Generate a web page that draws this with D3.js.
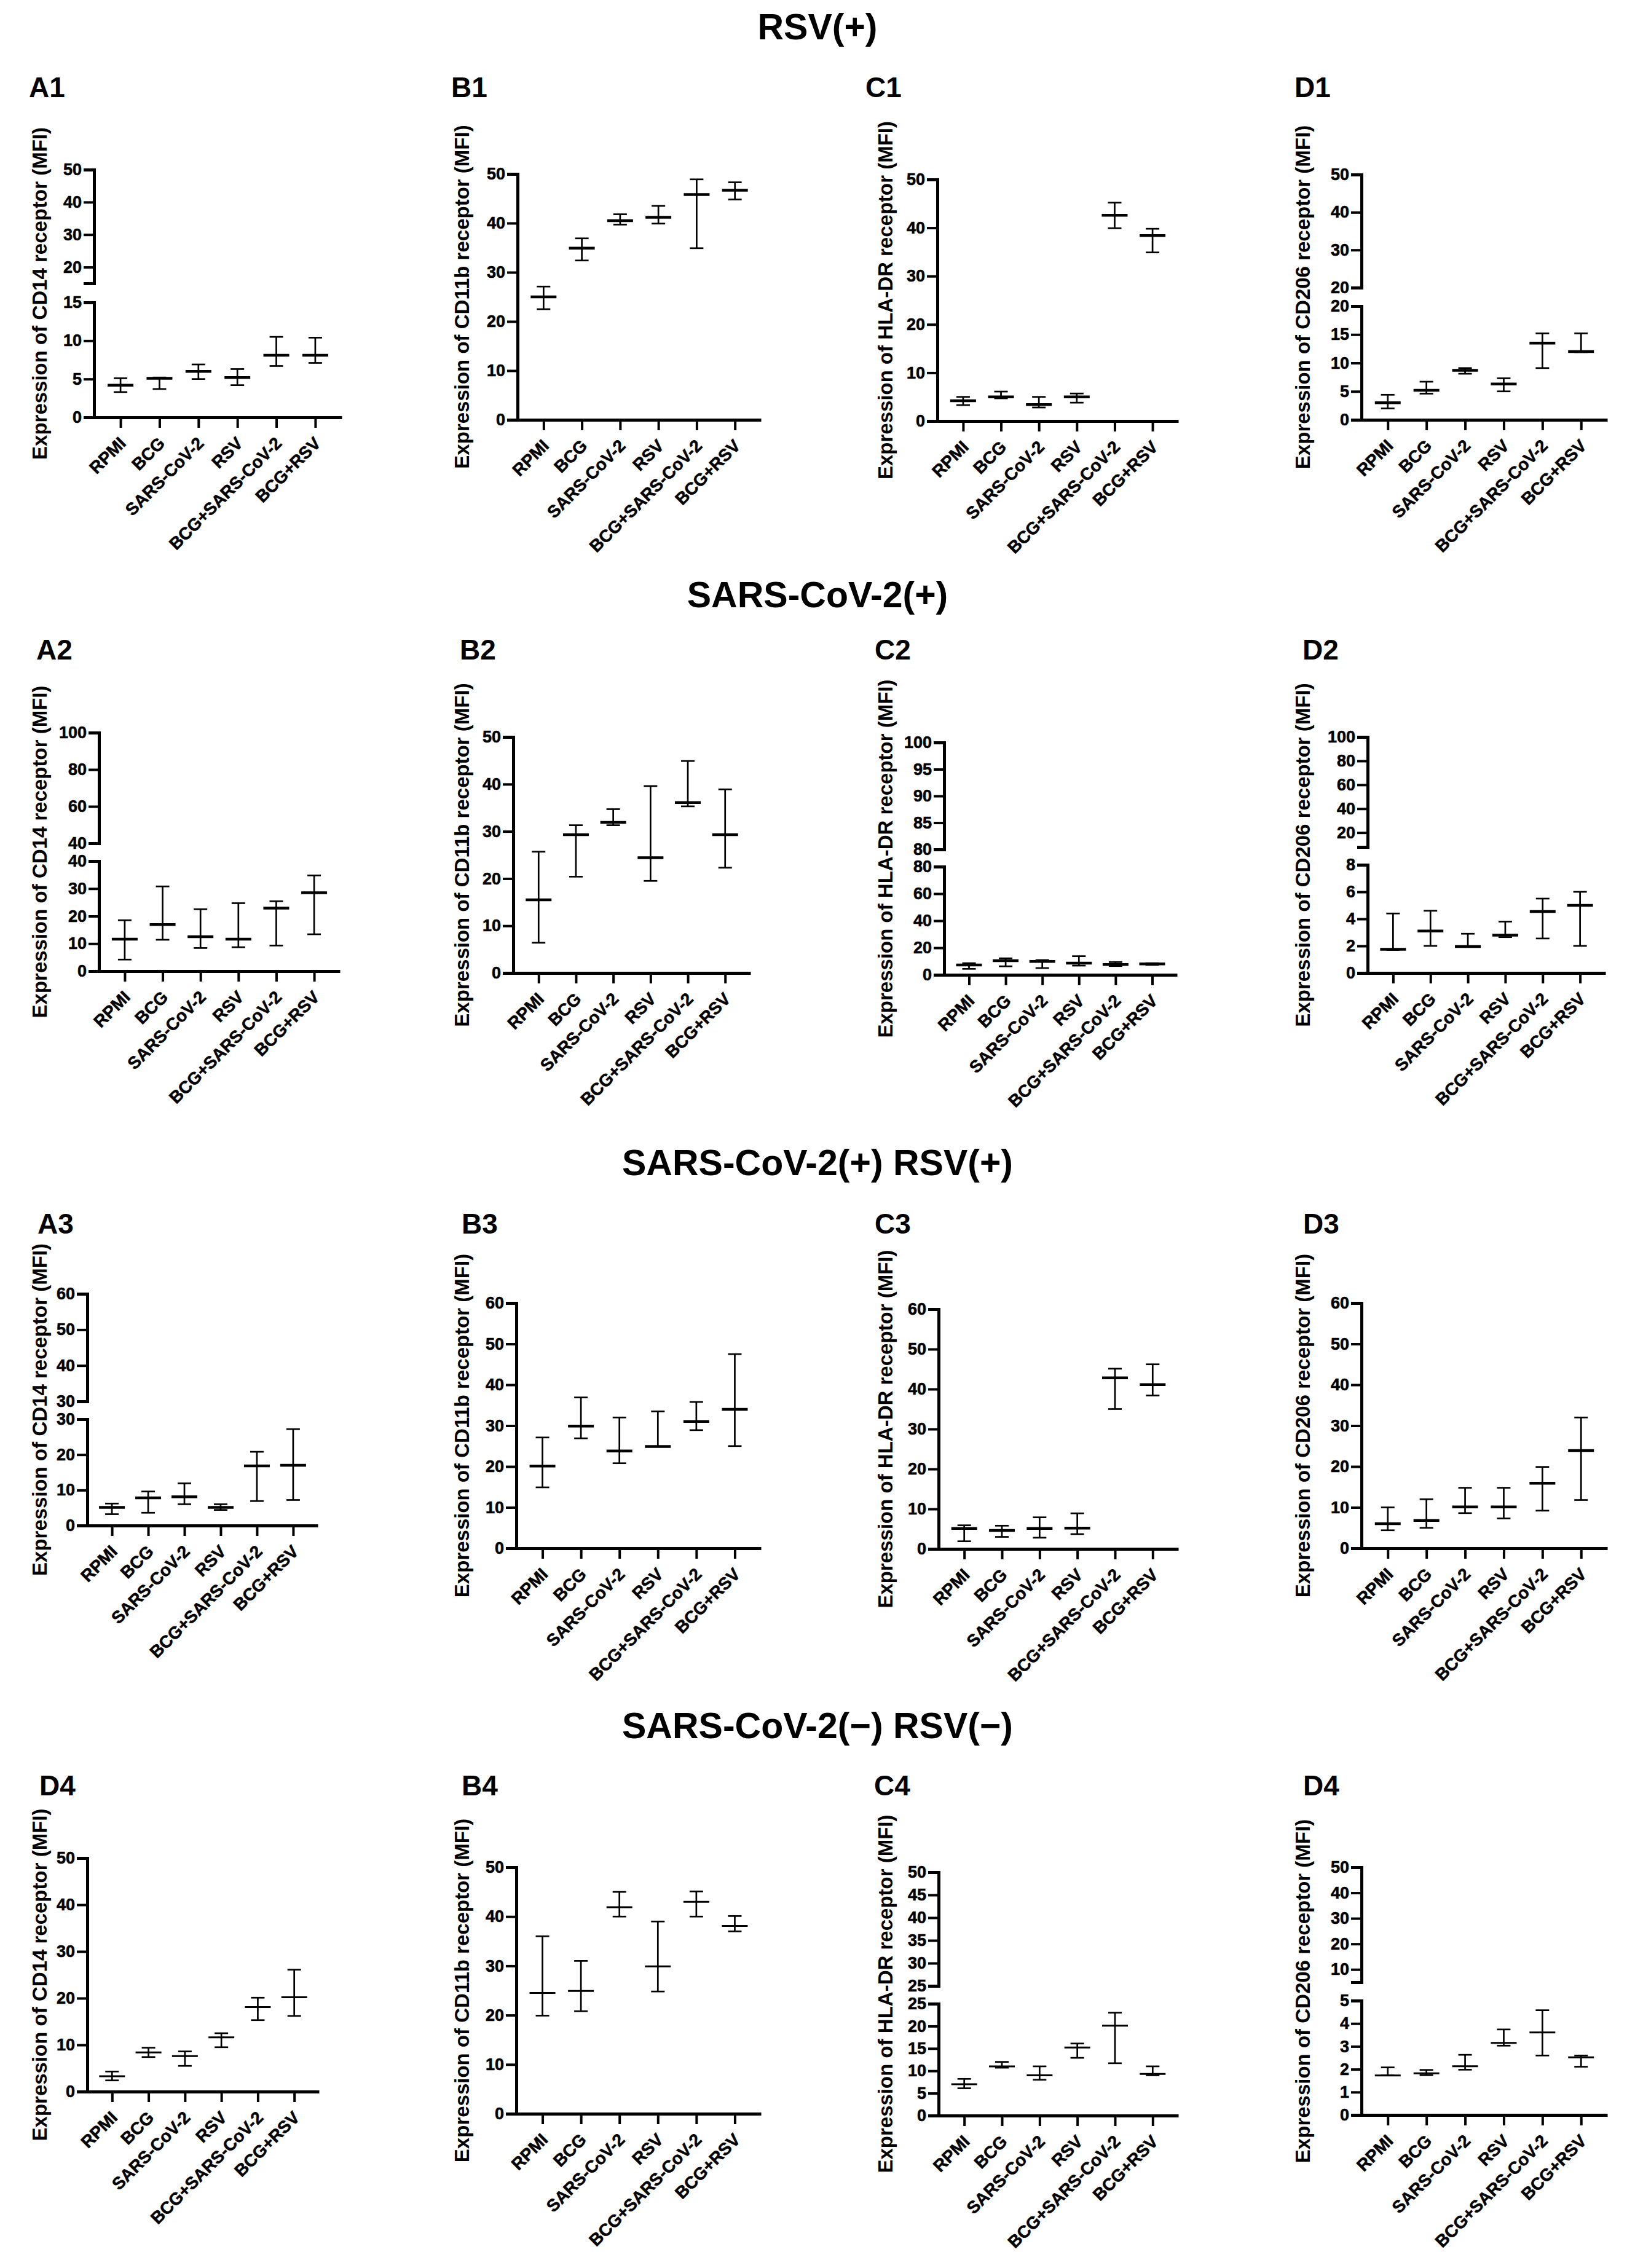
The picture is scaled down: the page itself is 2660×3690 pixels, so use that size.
<!DOCTYPE html>
<html>
<head>
<meta charset="utf-8">
<script src="https://cdn.jsdelivr.net/npm/d3@7"></script>
<style>
  body { margin: 0; background: #fff; }
  svg { display: block; }
</style>
</head>
<body>
<svg id="fig"></svg>
<script>
const categories = ["RPMI", "BCG", "SARS-CoV-2", "RSV", "BCG+SARS-CoV-2", "BCG+RSV"]
const rowTitles = ["RSV(+)", "SARS-CoV-2(+)", "SARS-CoV-2(+) RSV(+)", "SARS-CoV-2(\u2212) RSV(\u2212)"]
const panelLabels = [
	["A1", "B1", "C1", "D1"],
	["A2", "B2", "C2", "D2"],
	["A3", "B3", "C3", "D3"],
	["D4", "B4", "C4", "D4"],
]
const yTitles = [
	"Expression of CD14 receptor (MFI)",
	"Expression of CD11b receptor (MFI)",
	"Expression of HLA-DR receptor (MFI)",
	"Expression of CD206 receptor (MFI)",
]

// mean, lower and upper whisker per category
const meanA1 = [4.2, 5.1, 6.0, 5.2, 8.1, 8.1]
const lowA1 = [3.3, 3.7, 5.0, 4.2, 6.7, 7.1]
const highA1 = [5.1, 5.2, 6.9, 6.3, 10.5, 10.4]
const meanB1 = [25.0, 34.9, 40.5, 41.2, 45.8, 46.7]
const lowB1 = [22.5, 32.4, 39.7, 39.9, 34.9, 44.8]
const highB1 = [27.1, 36.9, 41.8, 43.5, 48.9, 48.3]
const meanC1 = [4.2, 5.0, 3.4, 5.0, 42.6, 38.4]
const lowC1 = [3.3, 4.7, 2.8, 3.8, 39.9, 34.9]
const highC1 = [5.0, 6.1, 5.0, 5.7, 45.2, 39.8]
const meanD1 = [3.0, 5.2, 8.7, 6.3, 13.5, 12.0]
const lowD1 = [2.0, 4.6, 8.1, 5.0, 9.1, 11.9]
const highD1 = [4.4, 6.7, 9.1, 7.3, 15.2, 15.2]

const meanA2 = [11.6, 16.9, 12.5, 11.6, 22.9, 28.5]
const lowA2 = [4.2, 11.4, 8.4, 8.7, 9.3, 13.4]
const highA2 = [18.5, 30.8, 22.5, 24.7, 25.4, 34.8]
const meanB2 = [15.5, 29.3, 31.9, 24.4, 36.1, 29.3]
const lowB2 = [6.4, 20.4, 31.3, 19.5, 35.3, 22.3]
const highB2 = [25.7, 31.3, 34.7, 39.6, 44.9, 38.9]
const meanC2 = [7.3, 10.4, 9.9, 8.6, 7.6, 8.1]
const lowC2 = [4.4, 6.3, 5.0, 6.8, 6.5, 7.3]
const highC2 = [8.6, 12.2, 10.9, 13.8, 9.4, 8.6]
const meanD2 = [1.75, 3.1, 1.95, 2.8, 4.55, 5.0]
const lowD2 = [1.7, 2.0, 1.95, 2.65, 2.55, 2.0]
const highD2 = [4.4, 4.6, 2.9, 3.8, 5.5, 6.0]

const meanA3 = [5.1, 7.8, 8.1, 5.1, 16.8, 17.0]
const lowA3 = [3.2, 3.6, 6.0, 4.4, 6.9, 7.2]
const highA3 = [6.2, 9.6, 11.9, 6.0, 20.8, 27.2]
const meanB3 = [20.1, 29.9, 23.8, 24.9, 31.0, 34.0]
const lowB3 = [14.9, 26.9, 20.8, 24.9, 28.9, 25.0]
const highB3 = [27.1, 36.9, 32.0, 33.5, 35.8, 47.5]
const meanC3 = [5.1, 4.6, 5.1, 5.2, 42.8, 41.1]
const lowC3 = [1.9, 3.0, 2.8, 3.7, 35.0, 38.4]
const highC3 = [5.9, 5.8, 7.9, 8.9, 45.1, 46.2]
const meanD3 = [6.0, 6.8, 10.1, 10.1, 15.9, 23.9]
const lowD3 = [4.4, 5.0, 8.6, 7.3, 9.2, 11.8]
const highD3 = [10.0, 12.0, 14.8, 14.8, 19.9, 32.0]

const meanA4 = [3.3, 8.4, 7.6, 11.6, 18.1, 20.2]
const lowA4 = [2.4, 7.4, 5.5, 9.5, 15.3, 16.2]
const highA4 = [4.3, 9.4, 8.6, 12.5, 20.1, 26.1]
const meanB4 = [24.5, 24.9, 41.9, 29.9, 43.0, 38.1]
const lowB4 = [19.9, 20.8, 40.0, 24.8, 40.0, 37.0]
const highB4 = [36.0, 31.0, 45.0, 39.0, 45.1, 40.1]
const meanC4 = [7.0, 11.0, 9.0, 15.2, 20.1, 9.3]
const lowC4 = [6.1, 10.7, 8.0, 12.9, 11.7, 9.0]
const highC4 = [8.2, 12.0, 11.0, 16.1, 23.0, 11.0]
const meanD4 = [1.73, 1.82, 2.13, 3.15, 3.61, 2.52]
const lowD4 = [1.73, 1.74, 1.98, 3.03, 2.6, 2.11]
const highD4 = [2.08, 1.97, 2.63, 3.74, 4.58, 2.6]

// y tick labels, lower segment and (for broken axes) upper segment
const ticks50 = [0, 10, 20, 30, 40, 50]
const ticks60 = [0, 10, 20, 30, 40, 50, 60]
const lowTicksA1 = [0, 5, 10, 15]
const upTicksA1 = [20, 30, 40, 50]
const lowTicksD1 = [0, 5, 10, 15, 20]
const upTicksD1 = [20, 30, 40, 50]
const lowTicksA2 = [0, 10, 20, 30, 40]
const upTicksA2 = [40, 60, 80, 100]
const lowTicksC2 = [0, 20, 40, 60, 80]
const upTicksC2 = [80, 85, 90, 95, 100]
const lowTicksD2 = [0, 2, 4, 6, 8]
const upTicksD2 = [20, 40, 60, 80, 100]
const lowTicksA3 = [0, 10, 20, 30]
const upTicksA3 = [30, 40, 50, 60]
const lowTicksC4 = [0, 5, 10, 15, 20, 25]
const upTicksC4 = [25, 30, 35, 40, 45, 50]
const lowTicksD4 = [0, 1, 2, 3, 4, 5]
const upTicksD4 = [10, 20, 30, 40, 50]
// where the upper segment of a broken axis starts
const breakFrom = { A1: 15, D1: 20, A2: 40, C2: 80, D2: 8, A3: 30, C4: 25, D4: 5 }

const panels = [
	[
		{ mean: meanA1, low: lowA1, high: highA1, ticks: lowTicksA1, up: upTicksA1, brk: breakFrom.A1 },
		{ mean: meanB1, low: lowB1, high: highB1, ticks: ticks50 },
		{ mean: meanC1, low: lowC1, high: highC1, ticks: ticks50 },
		{ mean: meanD1, low: lowD1, high: highD1, ticks: lowTicksD1, up: upTicksD1, brk: breakFrom.D1 },
	],
	[
		{ mean: meanA2, low: lowA2, high: highA2, ticks: lowTicksA2, up: upTicksA2, brk: breakFrom.A2 },
		{ mean: meanB2, low: lowB2, high: highB2, ticks: ticks50 },
		{ mean: meanC2, low: lowC2, high: highC2, ticks: lowTicksC2, up: upTicksC2, brk: breakFrom.C2 },
		{ mean: meanD2, low: lowD2, high: highD2, ticks: lowTicksD2, up: upTicksD2, brk: breakFrom.D2 },
	],
	[
		{ mean: meanA3, low: lowA3, high: highA3, ticks: lowTicksA3, up: upTicksA3, brk: breakFrom.A3 },
		{ mean: meanB3, low: lowB3, high: highB3, ticks: ticks60 },
		{ mean: meanC3, low: lowC3, high: highC3, ticks: ticks60 },
		{ mean: meanD3, low: lowD3, high: highD3, ticks: ticks60 },
	],
	[
		{ mean: meanA4, low: lowA4, high: highA4, ticks: ticks50 },
		{ mean: meanB4, low: lowB4, high: highB4, ticks: ticks50 },
		{ mean: meanC4, low: lowC4, high: highC4, ticks: lowTicksC4, up: upTicksC4, brk: breakFrom.C4 },
		{ mean: meanD4, low: lowD4, high: highD4, ticks: lowTicksD4, up: upTicksD4, brk: breakFrom.D4 },
	],
]

// page geometry (pixels)
const W = 2660
const H = 3690
const titleY = [64, 988, 1912, 2828]
const labelY = [158, 1073, 2007, 2921]
const labelX = [[47, 734, 1408, 2106], [59, 748, 1423, 2119], [61, 751, 1423, 2120], [64, 751, 1422, 2120]]
const yTitleX = [64, 751, 1440, 2119]
const frames = [
	[
		{ x0: 153, x1: 556, yTop: 276, yBot: 679, upBot: 461, lowTop: 492 },
		{ x0: 842, x1: 1238, yTop: 283, yBot: 683 },
		{ x0: 1525, x1: 1917, yTop: 292, yBot: 685 },
		{ x0: 2215, x1: 2615, yTop: 284, yBot: 683, upBot: 468, lowTop: 498 },
	],
	[
		{ x0: 161, x1: 553, yTop: 1192, yBot: 1580, upBot: 1372, lowTop: 1401 },
		{ x0: 835, x1: 1221, yTop: 1199, yBot: 1583 },
		{ x0: 1536, x1: 1915, yTop: 1208, yBot: 1586, upBot: 1382, lowTop: 1410 },
		{ x0: 2225, x1: 2612, yTop: 1199, yBot: 1583, upBot: 1378, lowTop: 1407 },
	],
	[
		{ x0: 142, x1: 517, yTop: 2105, yBot: 2482, upBot: 2280, lowTop: 2309 },
		{ x0: 840, x1: 1238, yTop: 2120, yBot: 2519 },
		{ x0: 1527, x1: 1917, yTop: 2130, yBot: 2520 },
		{ x0: 2215, x1: 2615, yTop: 2120, yBot: 2519 },
	],
	[
		{ x0: 142, x1: 519, yTop: 3023, yBot: 3403 },
		{ x0: 840, x1: 1238, yTop: 3038, yBot: 3439 },
		{ x0: 1527, x1: 1917, yTop: 3046, yBot: 3442, upBot: 3231, lowTop: 3260 },
		{ x0: 2215, x1: 2615, yTop: 3038, yBot: 3441, upBot: 3225, lowTop: 3255 },
	],
]

const font = "'Liberation Sans', Arial, sans-serif"

const svg = d3.select("#fig").attr("width", W).attr("height", H)
svg.append("rect").attr("width", W).attr("height", H).attr("fill", "#fff")

// row titles
svg.selectAll("text.rowTitle")
	.data(rowTitles)
	.enter()
	.append("text")
	.attr("class", "rowTitle")
	.attr("x", W / 2)
	.attr("y", (d, i) => titleY[i])
	.attr("text-anchor", "middle")
	.attr("font-family", font)
	.attr("font-weight", "bold")
	.attr("font-size", 59)
	.text(d => d)

function styleAxis(sel) {
	sel.attr("font-family", font)
		.attr("font-weight", "bold")
		.attr("font-size", 27)
	sel.select(".domain").attr("stroke-width", 5)
	sel.selectAll(".tick line").attr("stroke-width", 4)
	sel.selectAll(".tick text").attr("stroke", "#000").attr("stroke-width", 0.6)
}

function drawPanel(p, f, row, col) {
	const g = svg.append("g")

	const x = d3.scalePoint().domain(categories).range([f.x0, f.x1]).padding(0.68)

	let yLow, yUp
	if (p.up) {
		yLow = d3.scaleLinear().domain([0, d3.max(p.ticks)]).range([f.yBot, f.lowTop])
		yUp = d3.scaleLinear().domain([p.brk, d3.max(p.up)]).range([f.upBot, f.yTop])
	} else {
		yLow = d3.scaleLinear().domain([0, d3.max(p.ticks)]).range([f.yBot, f.yTop])
	}
	const y = v => (yUp && v > yLow.domain()[1] ? yUp(v) : yLow(v))

	// y axis (one or two segments)
	g.append("g")
		.attr("transform", `translate(${f.x0},0)`)
		.call(d3.axisLeft(yLow).tickValues(p.ticks).tickSize(17).tickPadding(3).tickFormat(d3.format("d")))
		.call(styleAxis)
	if (yUp) {
		g.append("g")
			.attr("transform", `translate(${f.x0},0)`)
			.call(d3.axisLeft(yUp).tickValues(p.up).tickSize(17).tickPadding(3).tickFormat(d3.format("d")))
			.call(styleAxis)
	}

	// x axis with slanted category names
	const xa = g.append("g")
		.attr("transform", `translate(0,${f.yBot})`)
		.call(d3.axisBottom(x).tickSize(17).tickSizeOuter(0))
		.call(styleAxis)
	xa.attr("font-size", 28)
	xa.selectAll(".tick text")
		.attr("y", null)
		.attr("dy", null)
		.attr("text-anchor", "end")
		.attr("transform", "translate(10,44) rotate(-45)")

	// y title
	g.append("text")
		.attr("transform", `translate(${yTitleX[col]},${(f.yTop + f.yBot) / 2}) rotate(-90)`)
		.attr("text-anchor", "middle")
		.attr("dominant-baseline", "central")
		.attr("font-family", font)
		.attr("font-weight", "bold")
		.attr("font-size", 33)
		.text(yTitles[col])

	// panel letter
	g.append("text")
		.attr("x", labelX[row][col])
		.attr("y", labelY[row])
		.attr("font-family", font)
		.attr("font-weight", "bold")
		.attr("font-size", 46)
		.text(panelLabels[row][col])

	// mean with error bars
	const meanW = row === 3 ? 3 : 4.5
	const items = categories.map((c, i) => ({ c, m: p.mean[i], lo: p.low[i], hi: p.high[i] }))
	const bars = g.append("g").attr("stroke", "#000").attr("fill", "none")
	bars.selectAll("line.whisk")
		.data(items)
		.enter()
		.append("line")
		.attr("x1", d => x(d.c))
		.attr("x2", d => x(d.c))
		.attr("y1", d => y(d.lo))
		.attr("y2", d => y(d.hi))
		.attr("stroke-width", 2.7)
	;["lo", "hi"].forEach(k => {
		bars.selectAll("line.cap-" + k)
			.data(items)
			.enter()
			.append("line")
			.attr("x1", d => x(d.c) - 11)
			.attr("x2", d => x(d.c) + 11)
			.attr("y1", d => y(d[k]))
			.attr("y2", d => y(d[k]))
			.attr("stroke-width", 2.7)
	})
	bars.selectAll("line.mean")
		.data(items)
		.enter()
		.append("line")
		.attr("x1", d => x(d.c) - 21)
		.attr("x2", d => x(d.c) + 21)
		.attr("y1", d => y(d.m))
		.attr("y2", d => y(d.m))
		.attr("stroke-width", meanW)
}

panels.forEach((rowPanels, r) => {
	rowPanels.forEach((p, c) => drawPanel(p, frames[r][c], r, c))
})
</script>
</body>
</html>
